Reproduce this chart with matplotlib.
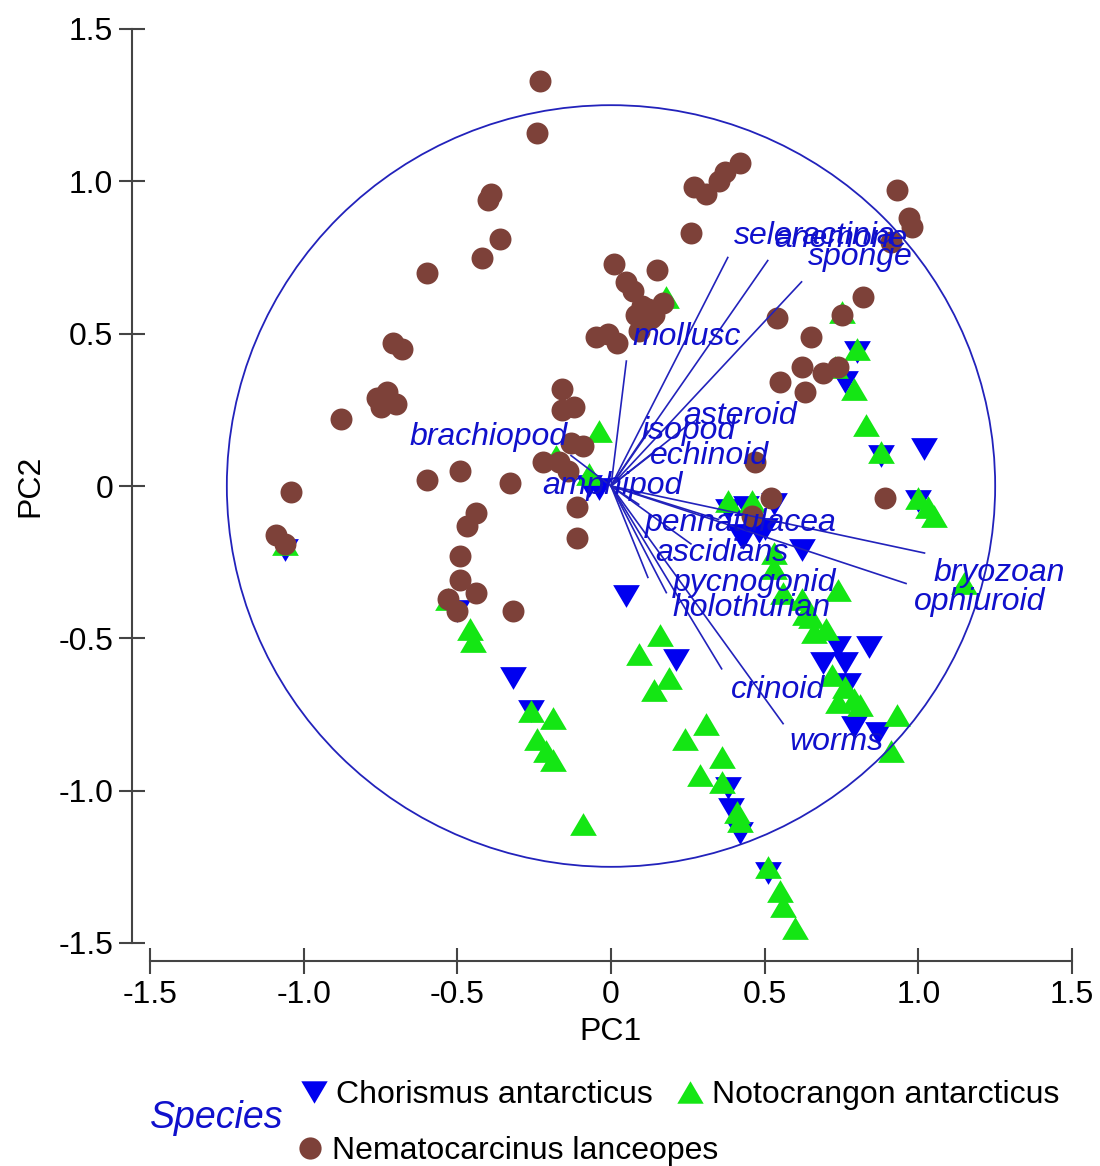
import numpy as np
import matplotlib
matplotlib.use("Agg")
import matplotlib.pyplot as plt
from matplotlib.patches import Circle
from matplotlib.lines import Line2D

plt.rcParams['font.family'] = ['Liberation Sans', 'DejaVu Sans']

# sample scores on PC1 / PC2
nema_x = [-0.23, -0.24, 0.42, 0.37, 0.35, 0.31, 0.27, 0.26, 0.93, 0.97, 0.98, 0.91, 0.82, 0.75,
          0.74, 0.65, 0.54, 0.62, 0.55, 0.63, 0.69, 0.89, 0.47, 0.52, 0.46, 0.01, 0.05, 0.07,
          0.10, 0.15, 0.17, 0.13, 0.09, -0.05, 0.02, -0.01, 0.12, 0.08, 0.14, -0.40, -0.39,
          -0.36, -0.42, -0.60, -0.71, -0.68, -0.76, -0.73, -0.75, -0.70, -0.88, -0.16, -0.12,
          -0.16, -0.09, -0.13, -0.22, -0.17, -0.14, -0.11, -0.11, -0.49, -0.60, -0.33, -1.04,
          -1.09, -1.06, -0.44, -0.47, -0.49, -0.49, -0.44, -0.53, -0.50, -0.32]
nema_y = [1.33, 1.16, 1.06, 1.03, 1.00, 0.96, 0.98, 0.83, 0.97, 0.88, 0.85, 0.80, 0.62, 0.56,
          0.39, 0.49, 0.55, 0.39, 0.34, 0.31, 0.37, -0.04, 0.08, -0.04, -0.10, 0.73, 0.67, 0.64,
          0.59, 0.71, 0.60, 0.55, 0.51, 0.49, 0.47, 0.50, 0.58, 0.56, 0.56, 0.94, 0.96,
          0.81, 0.75, 0.70, 0.47, 0.45, 0.29, 0.31, 0.26, 0.27, 0.22, 0.32, 0.26,
          0.25, 0.13, 0.14, 0.08, 0.08, 0.05, -0.07, -0.17, 0.05, 0.02, 0.01, -0.02,
          -0.16, -0.19, -0.09, -0.13, -0.23, -0.31, -0.35, -0.37, -0.41, -0.41]

chor_x = [-1.06, -0.50, -0.32, -0.26, -0.07, -0.04, 0.05, 0.21, 0.38, 0.44, 0.43, 0.48, 0.42,
          0.50, 0.62, 0.53, 0.80, 0.76, 0.88, 1.02, 1.00, 0.38, 0.39, 0.42, 0.51, 0.79, 0.87,
          0.69, 0.74, 0.76, 0.84, 0.77]
chor_y = [-0.21, -0.41, -0.63, -0.74, 0.00, -0.01, -0.36, -0.57, -0.08, -0.07, -0.17, -0.15, -0.16,
          -0.14, -0.21, -0.06, 0.44, 0.34, 0.10, 0.12, -0.05, -0.99, -1.06, -1.14, -1.27, -0.79, -0.81,
          -0.58, -0.53, -0.58, -0.53, -0.65]

noto_x = [0.75, 0.80, 0.73, 0.79, 0.83, 0.88, 1.00, 1.03, 1.05, 1.15, 0.91, 0.93, 0.81, 0.74,
          -0.04, 0.18, 0.38, 0.46, 0.53, 0.09, 0.16, 0.14, 0.19, 0.24, 0.31, 0.36, 0.29, 0.36,
          0.41, 0.42, -0.09, 0.51, 0.55, 0.56, 0.60, -0.26, -0.19, -0.24, -0.21, -0.19, -0.46,
          -0.45, -1.06, -0.53, -0.18, -0.07, 0.53, 0.56, 0.62, 0.63, 0.66, 0.70, 0.74, 0.72,
          0.76, 0.79, 0.65]
noto_y = [0.57, 0.45, 0.39, 0.32, 0.20, 0.11, -0.04, -0.07, -0.10, -0.32, -0.87, -0.75, -0.72, -0.71,
          0.18, 0.62, -0.05, -0.05, -0.22, -0.55, -0.49, -0.67, -0.63, -0.83, -0.78, -0.89, -0.95, -0.97,
          -1.07, -1.10, -1.11, -1.25, -1.33, -1.38, -1.45, -0.74, -0.76, -0.83, -0.87, -0.90, -0.47,
          -0.51, -0.19, -0.37, 0.10, 0.04, -0.27, -0.35, -0.37, -0.42, -0.48, -0.47, -0.34, -0.62,
          -0.66, -0.70, -0.43]

# variable loadings
variables = ['seleractinia', 'anemone', 'sponge', 'mollusc', 'asteroid', 'isopod', 'echinoid',
             'brachiopod', 'amphipod', 'pennatulacea', 'ascidians', 'pycnogonid', 'holothurian',
             'crinoid', 'worms', 'bryozoan', 'ophiuroid']
load_x = [0.38, 0.51, 0.62, 0.05, 0.25, 0.12, 0.14, -0.13, 0.09, 0.35, 0.26, 0.12, 0.18,
          0.36, 0.56, 1.02, 0.96]
load_y = [0.75, 0.74, 0.67, 0.41, 0.20, 0.18, 0.11, 0.10, -0.06, -0.11, -0.19, -0.30, -0.35,
          -0.60, -0.78, -0.22, -0.32]

# where each variable name is written (left edge, middle)
label_pos = {
    'seleractinia': (0.40, 0.82), 'anemone': (0.53, 0.81), 'sponge': (0.64, 0.75),
    'mollusc': (0.07, 0.49), 'asteroid': (0.235, 0.23), 'isopod': (0.10, 0.18),
    'echinoid': (0.127, 0.10), 'brachiopod': (-0.655, 0.16), 'amphipod': (-0.225, 0.0),
    'pennatulacea': (0.11, -0.12), 'ascidians': (0.143, -0.22), 'pycnogonid': (0.20, -0.32),
    'holothurian': (0.20, -0.40), 'crinoid': (0.39, -0.67), 'worms': (0.58, -0.84),
    'bryozoan': (1.05, -0.286), 'ophiuroid': (0.985, -0.38),
}

blue_txt = '#1010cc'
line_col = '#2222bb'
brown = '#7d4139'
green = '#14e614'
blue = '#0000f0'

tri_up = [(0, 0.85), (-1, -0.85), (1, -0.85)]
tri_dn = [(0, -0.85), (-1, 0.85), (1, 0.85)]

fig = plt.figure(figsize=(11, 11.66), dpi=100)
ax = fig.add_axes([150 / 1100, 223 / 1166, 922 / 1100, 914 / 1166])

ax.scatter(chor_x, chor_y, marker=tri_dn, s=370, c=blue, lw=0, zorder=3, clip_on=False)
ax.scatter(noto_x, noto_y, marker=tri_up, s=370, c=green, lw=0, zorder=4, clip_on=False)
ax.scatter(nema_x, nema_y, marker='o', s=250, c=brown, lw=0, zorder=5, clip_on=False)

ax.add_patch(Circle((0, 0), 1.25, fill=False, ec=line_col, lw=1.3, zorder=6))
for name, lx, ly in zip(variables, load_x, load_y):
    ax.plot([0, lx], [0, ly], color=line_col, lw=1.2, zorder=6)
    tx, ty = label_pos[name]
    ax.text(tx, ty, name, color=blue_txt, fontsize=23, style='italic',
            ha='left', va='center', zorder=7)

ax.set_xlim(-1.5, 1.5)
ax.set_ylim(-1.5, 1.5)
ticks = [-1.5, -1.0, -0.5, 0, 0.5, 1.0, 1.5]
tick_labels = ['-1.5', '-1.0', '-0.5', '0', '0.5', '1.0', '1.5']
ax.set_xticks(ticks)
ax.set_xticklabels(tick_labels)
ax.set_yticks(ticks)
ax.set_yticklabels(tick_labels)
for side in ['top', 'right']:
    ax.spines[side].set_visible(False)
for side in ['left', 'bottom']:
    ax.spines[side].set_position(('outward', 13))
    ax.spines[side].set_color('#444444')
    ax.spines[side].set_linewidth(1.5)
ax.tick_params(direction='inout', length=19, width=1.5, color='#444444',
               labelsize=23, pad=4)
ax.set_xlabel('PC1', fontsize=23)
ax.set_ylabel('PC2', fontsize=23)
ax.xaxis.set_label_coords(0.5, -0.0974)
ax.xaxis.label.set_va('center')
ax.yaxis.set_label_coords(-0.13, 0.5)
ax.yaxis.label.set_va('center')

# legend
h_dn = Line2D([], [], ls='', marker=tri_dn, color=blue, markersize=19, mew=0)
h_up = Line2D([], [], ls='', marker=tri_up, color=green, markersize=19, mew=0)
h_o = Line2D([], [], ls='', marker='o', color=brown, markersize=16, mew=0)
kw = dict(frameon=False, fontsize=23, handlelength=0.8, handletextpad=0.3,
          borderpad=0, borderaxespad=0, loc='center left')
leg1 = fig.legend([h_dn, h_up], ['Chorismus antarcticus', 'Notocrangon antarcticus'],
                  ncol=2, columnspacing=0.75, bbox_to_anchor=(301 / 1100, 1 - 1095 / 1166), **kw)
leg2 = fig.legend([h_o], ['Nematocarcinus lanceopes'],
                  bbox_to_anchor=(297 / 1100, 1 - 1151 / 1166), **kw)
fig.text(150 / 1100, 1 - 1118 / 1166, 'Species', color=blue_txt, fontsize=27,
         style='italic', ha='left', va='center')

fig.savefig('out.png', dpi=100)
